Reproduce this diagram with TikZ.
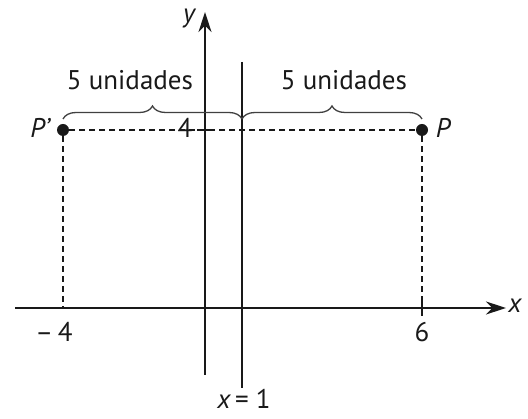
\documentclass[tikz,border=0pt]{standalone}
\usepackage{fontspec}
\setmainfont{PT Sans}
\usetikzlibrary{decorations.pathreplacing,arrows.meta}
\begin{document}
\begin{tikzpicture}[x=1pt,y=-1pt,
  axis/.style={line width=1.7pt,black!90},
  guide/.style={line width=1.5pt,black!90,dash pattern=on 6pt off 4pt},
  bracestyle/.style={line width=1.3pt,black!75,decorate,decoration={brace,amplitude=13pt}},
  lbl/.style={font=\fontsize{27}{30}\selectfont,text=black!90,inner sep=0pt},
  ilbl/.style={lbl,font=\fontsize{27}{30}\selectfont\itshape},
  dot/.style={circle,fill=black!90,minimum size=12pt,inner sep=0pt}]
\useasboundingbox (0,0) rectangle (528,419);
% axes
\coordinate (xs) at (15,308);
\coordinate (xe) at (506,308);
\coordinate (ys) at (205,375);
\coordinate (ye) at (205,12);
\draw[axis,-{Stealth[length=20pt,width=13pt]}] (xs) -- (xe);
\draw[axis,-{Stealth[length=20pt,width=13pt]}] (ys) -- (ye);
\node[ilbl] (xl) at (515,306) {x};
\node[ilbl] (yl) at (189,19) {y};
% line x=1
\coordinate (l1) at (242,62);
\coordinate (l2) at (242,388);
\draw[axis] (l1) -- (l2);
\node[lbl,anchor=base] (xeq) at (244,409) {\itshape x\,\upshape= 1};
% points
\node[dot] (Pp) at (63,130) {};
\node[dot] (P) at (422,130) {};
\node[ilbl] (Ppl) at (40,128) {P'};
\node[ilbl] (Pl) at (443,128) {P};
% dashed guides
\coordinate (a) at (63,308);
\coordinate (b) at (422,308);
\draw[guide] (Pp) -- (P);
\draw[guide] (Pp) -- (a);
\draw[guide] (P) -- (b);
% ticks
\coordinate (t1) at (422,300);
\coordinate (t2) at (422,316);
\draw[axis] (t1) -- (t2);
\coordinate (t3) at (197,130);
\coordinate (t4) at (212,130);
\draw[axis] (t3) -- (t4);
\node[lbl] (four) at (185,128) {4};
\node[lbl] (m4) at (54,332) {–\,4};
\node[lbl] (six) at (422,332) {6};
% braces
\coordinate (b1) at (63,119);
\coordinate (b2) at (242,119);
\coordinate (b3) at (422,119);
\draw[bracestyle] (b1) -- (b2);
\draw[bracestyle] (b2) -- (b3);
\node[lbl] (u1) at (130,80) {5 unidades};
\node[lbl] (u2) at (344,80) {5 unidades};
\end{tikzpicture}
\end{document}
